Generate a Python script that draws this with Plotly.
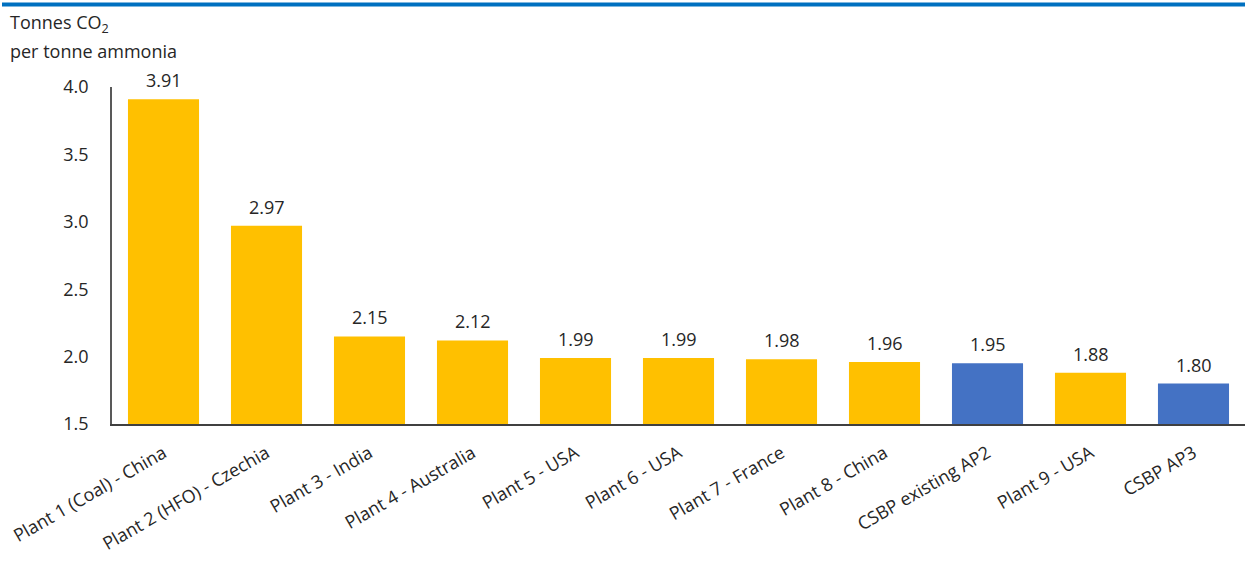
import plotly.graph_objects as go

categories = ["Plant 1 (Coal) - China", "Plant 2 (HFO) - Czechia", "Plant 3 - India",
              "Plant 4 - Australia", "Plant 5 - USA", "Plant 6 - USA", "Plant 7 - France",
              "Plant 8 - China", "CSBP existing AP2", "Plant 9 - USA", "CSBP AP3"]
values = [3.91, 2.97, 2.15, 2.12, 1.99, 1.99, 1.98, 1.96, 1.95, 1.88, 1.80]
is_csbp = [False, False, False, False, False, False, False, False, True, False, True]
y_ticks = [1.5, 2.0, 2.5, 3.0, 3.5, 4.0]

YELLOW = "#FFC000"
BLUE = "#4472C4"
TEXT = "#262626"
FONT = "Open Sans"
FS = 18

colors = [BLUE if c else YELLOW for c in is_csbp]

fig = go.Figure()
fig.add_trace(go.Bar(
    x=categories, y=[v - 1.5 for v in values], base=1.5,
    marker=dict(color=colors, line=dict(width=0)),
    width=0.69, hoverinfo="skip",
))

W, H = 1247, 569
L, R, T, B = 112, 2, 87, 145
pw, ph = W - L - R, H - T - B

def px_x(x):
    return (x - L) / pw

def px_y(y):
    return (H - B - y) / ph

annotations = [
    dict(x=c, y=v, text=f"{v:.2f}", xref="x", yref="y", showarrow=False,
         yanchor="bottom", yshift=5, font=dict(size=FS, color=TEXT, family=FONT))
    for c, v in zip(categories, values)
]
annotations.append(
    dict(text="Tonnes CO<sub>2</sub>", xref="paper", yref="paper",
         x=px_x(9), y=px_y(38), xanchor="left", yanchor="bottom", align="left",
         showarrow=False, borderpad=0, font=dict(size=FS, color=TEXT, family=FONT))
)
annotations.append(
    dict(text="per tonne ammonia", xref="paper", yref="paper",
         x=px_x(9), y=px_y(38), xanchor="left", yanchor="top", align="left",
         showarrow=False, borderpad=0, font=dict(size=FS, color=TEXT, family=FONT))
)

fig.update_layout(
    width=W, height=H,
    margin=dict(l=L, r=R, t=T, b=B),
    plot_bgcolor="white", paper_bgcolor="white",
    showlegend=False,
    font=dict(family=FONT, size=FS, color=TEXT),
    xaxis=dict(
        tickangle=-30, showgrid=False, showline=True, linecolor="#404040", linewidth=1.5,
        ticks="", tickfont=dict(size=FS, color=TEXT, family=FONT), ticklabelstandoff=10,
    ),
    yaxis=dict(
        range=[1.5, 4.0], tickvals=y_ticks, ticktext=[f"{t:.1f}" for t in y_ticks],
        showgrid=False, showline=True, linecolor="#595959", linewidth=1.5,
        ticks="", ticklen=0, tickfont=dict(size=FS, color=TEXT, family=FONT),
        zeroline=False, ticklabelstandoff=18,
    ),
    shapes=[dict(type="line", xref="paper", yref="paper",
                 x0=px_x(2), x1=px_x(1245), y0=px_y(4.5), y1=px_y(4.5),
                 line=dict(color="#0070C0", width=4))],
    annotations=annotations,
)

fig.write_html("out.html", config={"displayModeBar": False},
               post_script="document.body.style.margin='0';")
